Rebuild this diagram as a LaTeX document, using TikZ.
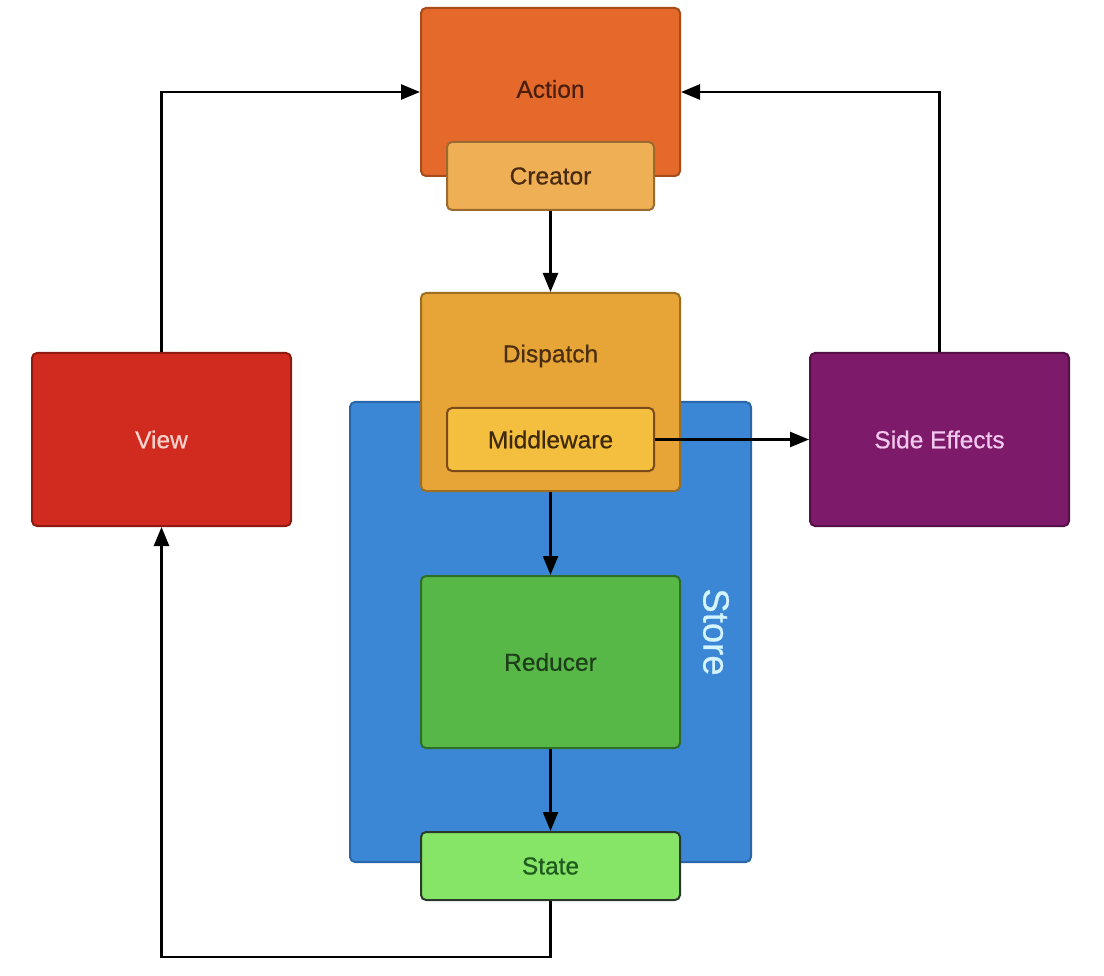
\documentclass[tikz,border=0pt]{standalone}
\usepackage{fontspec}
\setmainfont{Liberation Sans}[FakeBold=0.6]
\usetikzlibrary{arrows.meta}
\definecolor{actfill}{HTML}{E4692B}\definecolor{actdraw}{HTML}{A84A1A}\definecolor{acttext}{HTML}{4B1F10}
\definecolor{crefill}{HTML}{EFB055}\definecolor{credraw}{HTML}{9A6A30}\definecolor{cretext}{HTML}{4A2A10}
\definecolor{disfill}{HTML}{E7A437}\definecolor{disdraw}{HTML}{9E6E20}\definecolor{distext}{HTML}{4A2E10}
\definecolor{midfill}{HTML}{F4BE3F}\definecolor{middraw}{HTML}{7A4A18}\definecolor{midtext}{HTML}{3E2A0A}
\definecolor{stofill}{HTML}{3B87D5}\definecolor{stodraw}{HTML}{2A66A8}\definecolor{stotext}{HTML}{D4F4FF}
\definecolor{viefill}{HTML}{D12A1F}\definecolor{viedraw}{HTML}{8E1A12}\definecolor{vietext}{HTML}{F6D3CC}
\definecolor{sidfill}{HTML}{7D1A69}\definecolor{siddraw}{HTML}{561048}\definecolor{sidtext}{HTML}{F2C8EE}
\definecolor{redfill}{HTML}{57B848}\definecolor{reddraw}{HTML}{2E6E25}\definecolor{redtext}{HTML}{1F3F1A}
\definecolor{stafill}{HTML}{86E466}\definecolor{stadraw}{HTML}{2A3A2A}\definecolor{statext}{HTML}{1F5A1F}
\tikzset{
  boxstyle/.style={rectangle, rounded corners=5pt, line width=2pt, inner sep=0pt, font=\fontsize{24.5}{28}\selectfont},
  labelstyle/.style={font=\fontsize{24.5}{28}\selectfont},
  conn/.style={line width=2.5pt, draw=black},
  arr/.style={conn, -{Triangle[length=19pt,width=15pt]}},
}
\begin{document}
\begin{tikzpicture}[x=1pt,y=-1pt]
\useasboundingbox[fill=white] (0,0) rectangle (1104,976);
% Store
\node[boxstyle, fill=stofill, draw=stodraw, minimum width=401pt, minimum height=460pt] (store) at (550.5,632) {};
\node[text=stotext, font=\fontsize{36.5}{42}\selectfont, rotate=-90] (storetxt) at (716,632) {Store};
% Action + Creator
\node[boxstyle, fill=actfill, draw=actdraw, minimum width=259pt, minimum height=168pt] (action) at (550.5,92) {};
\node[labelstyle, text=acttext] (actiontxt) at (550.5,89) {Action};
\node[boxstyle, fill=crefill, draw=credraw, text=cretext, minimum width=207pt, minimum height=68pt] (creator) at (550.5,176) {Creator};
% Dispatch + Middleware
\node[boxstyle, fill=disfill, draw=disdraw, minimum width=259pt, minimum height=198pt] (dispatch) at (550.5,392) {};
\node[labelstyle, text=distext] (dispatchtxt) at (550.5,356) {Dispatch};
\node[boxstyle, fill=midfill, draw=middraw, text=midtext, minimum width=207pt, minimum height=63pt] (mw) at (550.5,439.5) {Middleware};
% View, Side Effects
\node[boxstyle, fill=viefill, draw=viedraw, text=vietext, minimum width=259pt, minimum height=173pt] (view) at (161.5,439.5) {View};
\node[boxstyle, fill=sidfill, draw=siddraw, text=sidtext, minimum width=259pt, minimum height=173pt] (side) at (939.5,439.5) {Side Effects};
% Reducer, State
\node[boxstyle, fill=redfill, draw=reddraw, text=redtext, minimum width=259pt, minimum height=172pt] (reducer) at (550.5,662) {Reducer};
\node[boxstyle, fill=stafill, draw=stadraw, text=statext, minimum width=259pt, minimum height=68pt] (state) at (550.5,866) {State};
% connectors
\draw[arr] (view.north) |- (action.west);
\draw[arr] (side.north) |- (action.east);
\draw[arr] (creator.south) -- (dispatch.north);
\draw[arr] (mw.east) -- (side.west);
\draw[arr] (dispatch.south) -- (reducer.north);
\draw[arr] (reducer.south) -- (state.north);
\coordinate (bottomturn) at (550.5,957);
\draw[arr] (state.south) -- (bottomturn) -| (view.south);
\end{tikzpicture}
\end{document}
